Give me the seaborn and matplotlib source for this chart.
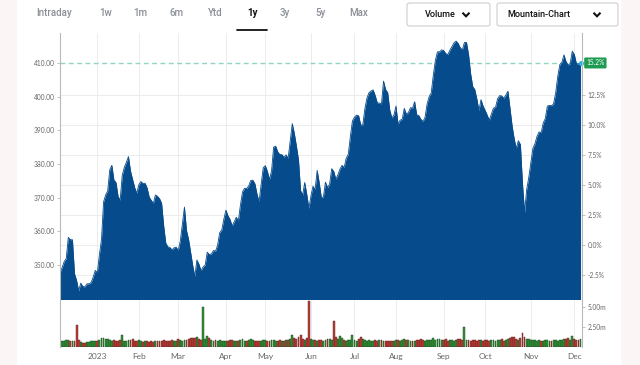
import numpy as np
import pandas as pd
import matplotlib
matplotlib.use("Agg")
import matplotlib.pyplot as plt
from matplotlib.patches import FancyBboxPatch, Rectangle
from matplotlib.lines import Line2D
import matplotlib.colors as mcolors
import seaborn as sns

# trading days shown in the 1y view (Dec 6 2022 - Dec 6 2023)
holidays = ["2022-12-26", "2023-01-02", "2023-01-16", "2023-02-20", "2023-04-07",
            "2023-05-29", "2023-06-19", "2023-07-04", "2023-09-04", "2023-11-23"]
dates = pd.bdate_range("2022-12-06", "2023-12-06", freq="C", holidays=holidays)

prices = [
    347.8, 349.2, 351.0, 351.9, 358.2, 357.5, 357.5, 347.4, 345.4, 342.3,
    344.6, 343.6, 343.5, 344.4, 344.4, 344.8, 346.4, 348.4, 347.7, 353.1,
    357.5, 368.7, 370.8, 372.0, 378.3, 379.6, 375.2, 374.5, 370.4, 369.2,
    376.6, 379.0, 380.5, 382.2, 377.9, 375.4, 373.0, 371.3, 373.8, 374.8,
    374.2, 374.3, 372.9, 370.2, 369.2, 368.3, 370.8, 370.4, 369.7, 368.3,
    361.6, 356.5, 355.4, 355.2, 354.5, 355.1, 355.3, 354.3, 357.1, 362.1,
    367.2, 360.2, 357.6, 353.7, 349.8, 346.6, 351.5, 350.2, 348.3, 349.4,
    350.0, 353.8, 353.1, 353.3, 354.3, 354.1, 355.9, 359.6, 360.4, 363.6,
    366.3, 364.6, 363.5, 361.6, 362.8, 364.2, 363.1, 367.8, 371.7, 372.8,
    372.7, 373.5, 375.1, 375.2, 374.1, 371.0, 368.8, 374.0, 378.9, 379.5,
    377.8, 375.4, 377.9, 385.0, 385.3, 383.6, 382.8, 382.8, 382.0, 382.7,
    381.7, 386.8, 392.0, 389.0, 385.3, 381.2, 372.1, 370.8, 374.5, 370.9,
    366.8, 370.5, 373.4, 372.4, 378.1, 374.4, 370.0, 370.2, 374.6, 373.0,
    374.0, 378.6, 377.8, 375.5, 376.8, 378.5, 379.6, 378.9, 381.7, 382.9,
    388.1, 392.8, 393.9, 394.5, 394.3, 391.6, 391.6, 396.4, 399.6, 401.2,
    401.7, 402.0, 400.3, 398.1, 398.1, 397.8, 404.6, 402.1, 401.2, 396.0,
    393.7, 394.5, 397.2, 391.8, 393.0, 393.3, 396.5, 394.8, 395.3, 396.7,
    396.6, 398.5, 394.6, 394.4, 393.3, 392.6, 393.8, 397.8, 400.0, 401.1,
    406.4, 410.8, 413.3, 413.3, 413.9, 413.7, 412.8, 412.5, 413.8, 414.9,
    416.0, 416.5, 415.8, 414.5, 413.9, 416.1, 416.1, 412.5, 406.8, 403.0,
    402.1, 399.3, 395.9, 399.1, 397.2, 395.9, 394.5, 393.0, 394.8, 396.6,
    396.8, 399.4, 400.3, 400.2, 399.5, 400.5, 401.6, 396.4, 391.3, 387.5,
    384.6, 386.9, 385.8, 374.2, 365.6, 372.3, 375.9, 380.2, 384.6, 386.0,
    388.2, 389.5, 389.3, 392.2, 393.5, 397.2, 397.4, 397.3, 397.9, 401.1,
    406.0, 409.5, 410.2, 412.4, 410.4, 409.4, 409.8, 413.5, 412.5, 409.8,
    409.7, 410.0,
]

# daily volume, millions of shares
volumes_m = [
    0.7, 0.8, 0.75, 0.85, 0.9, 0.8, 0.7, 0.75, 2.75, 0.9,
    0.6, 0.55, 0.5, 0.6, 0.65, 0.7, 0.75, 0.8, 0.7, 0.9,
    1.15, 1.1, 1.0, 0.95, 0.9, 0.8, 0.85, 0.75, 0.8, 0.9,
    1.5, 0.8, 0.7, 0.85, 0.9, 0.95, 0.8, 0.75, 0.9, 0.7,
    0.65, 0.7, 0.75, 0.6, 0.7, 0.65, 0.8, 0.75, 0.7, 0.8,
    0.9, 0.7, 0.75, 0.8, 0.9, 0.75, 0.8, 0.95, 0.85, 0.8,
    0.9, 0.85, 1.0, 1.1, 1.15, 1.15, 1.2, 1.0, 0.9, 5.0,
    1.0, 1.4, 1.1, 0.9, 0.8, 0.85, 0.7, 0.9, 0.8, 0.75,
    0.7, 0.8, 0.85, 0.9, 0.8, 0.75, 0.7, 0.9, 0.95, 0.8,
    0.75, 0.9, 1.0, 0.85, 0.8, 0.7, 0.75, 0.8, 0.85, 0.9,
    0.8, 0.75, 0.9, 0.85, 0.8, 0.7, 0.9, 0.75, 0.8, 0.85,
    0.9, 1.0, 1.5, 1.1, 1.0, 1.2, 1.5, 1.0, 0.9, 1.1,
    5.8, 1.0, 0.9, 0.85, 0.8, 0.9, 0.85, 0.8, 0.9, 0.95,
    1.0, 0.9, 3.2, 1.3, 1.0, 1.4, 1.1, 0.9, 0.8, 0.85,
    0.9, 1.5, 0.9, 0.8, 1.0, 1.3, 1.0, 0.9, 0.8, 0.85,
    0.8, 0.75, 0.9, 0.8, 0.85, 0.9, 0.8, 0.75, 0.8, 0.7,
    0.75, 0.8, 0.85, 0.9, 0.8, 0.85, 0.95, 0.9, 0.85, 0.8,
    0.75, 0.8, 0.85, 0.9, 1.0, 0.85, 0.8, 0.9, 0.85, 0.9,
    1.1, 0.9, 1.0, 1.05, 0.85, 0.9, 0.95, 0.8, 0.85, 0.9,
    0.8, 0.85, 0.95, 1.0, 0.9, 2.55, 0.85, 0.9, 0.8, 0.85,
    0.9, 0.8, 0.85, 0.9, 0.75, 0.9, 0.85, 0.8, 0.85, 0.9,
    0.8, 0.85, 0.9, 0.95, 0.8, 0.9, 1.0, 1.1, 1.2, 1.3,
    1.0, 0.9, 1.1, 1.8, 1.3, 1.0, 0.95, 0.9, 0.85, 0.9,
    0.8, 0.85, 0.75, 0.8, 0.85, 0.9, 0.8, 0.75, 0.85, 0.9,
    0.8, 0.85, 0.9, 1.0, 0.95, 1.1, 0.9, 1.4, 1.0, 0.85,
    0.9, 0.95,
]

base_price = 355.9  # 0% reference of the right axis
tabs = ["Intraday", "1w", "1m", "6m", "Ytd", "1y", "3y", "5y", "Max"]
tab_x = [54, 106, 140, 177, 215, 252, 285, 320, 359]
active_tab = "1y"
price_ticks = [350, 360, 370, 380, 390, 400, 410]
pct_ticks = [-2.5, 0.0, 2.5, 5.0, 7.5, 10.0, 12.5]
vol_ticks = [2.5, 5.0]

df = pd.DataFrame({"date": dates, "price": prices, "volume": volumes_m})
df["idx"] = np.arange(len(df))
df["move"] = np.where(df["price"].diff().fillna(0) >= 0, "up", "down")

month_start = df.groupby(df["date"].dt.to_period("M"))["idx"].min()
month_start = month_start[month_start.index >= pd.Period("2023-01", "M")]
month_labels = ["2023" if p.month == 1 else p.strftime("%b") for p in month_start.index]

sns.set_theme(style="white")
plt.rcParams["font.family"] = ["Lato", "DejaVu Sans"]

BLUE = "#064b8c"
GREEN = "#23a42b"
RED = "#d42a22"
GRID = "#ececec"
SPINE = "#b8b8b8"
TICK = "#666666"

W, H = 640, 365
fig = plt.figure(figsize=(6.4, 3.65), dpi=100)
fig.patch.set_facecolor("#fcf5f5")


def fx(px):
    return px / W


def fy(py):
    return 1 - py / H


fig.add_artist(Rectangle((fx(17), 0), fx(621) - fx(17), 1, transform=fig.transFigure,
                         facecolor="white", edgecolor="none", zorder=-5))

xlim = (0, 251.7)
ylim = (339.6, 418.9)

# price area
ax = fig.add_axes([fx(60), fy(300), fx(582) - fx(60), fy(33) - fy(300)])
ax.set_facecolor("white")
for p in pct_ticks:
    ax.axhline(base_price * (1 + p / 100), color=GRID, lw=0.7, zorder=0)
for m in month_start.values:
    ax.axvline(m, color=GRID, lw=0.7, zorder=0)
ax.axhline(prices[-1], color="#8fd6c6", lw=1.0, ls=(0, (3.5, 2.5)), zorder=1)
sns.lineplot(data=df, x="idx", y="price", ax=ax, color=BLUE, lw=0.6, zorder=2)
ax.fill_between(df["idx"], df["price"], ylim[0] - 5, color=BLUE, lw=0, zorder=2)
ax.set_xlim(*xlim)
ax.set_ylim(*ylim)
ax.set_xlabel("")
ax.set_ylabel("")
ax.set_xticks([])
ax.set_yticks(price_ticks)
ax.set_yticklabels([f"{v:.2f}" for v in price_ticks])
ax.tick_params(axis="y", length=2.5, width=0.6, color=SPINE, labelsize=4.8,
               labelcolor=TICK, pad=1.5, left=True)
for s in ["top", "bottom", "right"]:
    ax.spines[s].set_visible(False)
ax.spines["left"].set_color(SPINE)
ax.spines["left"].set_linewidth(0.8)

# last value marker and change badge
last_pct = (prices[-1] / base_price - 1) * 100
ax.scatter([df["idx"].iloc[-1]], [prices[-1]], s=14, color="#2fb2dc", zorder=6,
           clip_on=False, linewidths=0)
ax.annotate(f"{last_pct:.1f}%", xy=(1, prices[-1]), xycoords=("axes fraction", "data"),
            xytext=(3, 0), textcoords="offset points", ha="left", va="center",
            fontsize=4.8, color="white", zorder=7, annotation_clip=False,
            bbox=dict(boxstyle="round,pad=0.3,rounding_size=0.2", fc="#1e9b52", ec="none"))

# percent axis on the right
axp = ax.twinx()
axp.set_ylim((ylim[0] / base_price - 1) * 100, (ylim[1] / base_price - 1) * 100)
axp.set_yticks(pct_ticks)
axp.set_yticklabels([f"{v:.1f}%" for v in pct_ticks])
axp.tick_params(axis="y", length=2.5, width=0.6, color=SPINE, labelsize=4.8,
                labelcolor=TICK, pad=1.5, right=True)
axp.grid(False)
for s in ["top", "bottom", "left"]:
    axp.spines[s].set_visible(False)
axp.spines["right"].set_color(SPINE)
axp.spines["right"].set_linewidth(0.8)

# volume panel
axv = fig.add_axes([fx(60), fy(347), fx(582) - fx(60), fy(300) - fy(347)])
axv.set_facecolor("white")
for m in month_start.values:
    axv.axvline(m, color=GRID, lw=0.7, zorder=0)
sns.barplot(data=df, x="idx", y="volume", hue="move", palette={"up": GREEN, "down": RED},
            dodge=False, native_scale=True, legend=False, errorbar=None, width=0.9,
            ax=axv, zorder=2)
for bar in axv.patches:
    r, g, b, a = bar.get_facecolor()
    bar.set_edgecolor((r * 0.45, g * 0.45, b * 0.45, 1))
    bar.set_linewidth(0.3)
axv.set_xlim(*xlim)
axv.set_ylim(0, 5.875)
axv.set_xlabel("")
axv.set_ylabel("")
axv.yaxis.tick_right()
axv.set_yticks(vol_ticks)
axv.set_yticklabels([f"{v:.2f}m" for v in vol_ticks])
axv.tick_params(axis="y", length=2.5, width=0.6, color=SPINE, labelsize=4.8,
                labelcolor=TICK, pad=1.5, right=True, left=False)
axv.set_xticks(month_start.values)
axv.set_xticklabels(month_labels)
axv.tick_params(axis="x", length=0, labelsize=6, labelcolor=TICK, pad=4)
for s in ["top", "bottom"]:
    axv.spines[s].set_visible(False)
for s in ["left", "right"]:
    axv.spines[s].set_color(SPINE)
    axv.spines[s].set_linewidth(0.8)

# period tabs
for name, cx in zip(tabs, tab_x):
    active = name == active_tab
    fig.text(fx(cx), fy(13), name, ha="center", va="center", fontsize=7,
             family=["Roboto", "DejaVu Sans"], fontweight="bold" if active else "medium",
             color="#111111" if active else "#8a8e96")
fig.add_artist(Line2D([fx(237), fx(267)], [fy(30), fy(30)], color="#111111", lw=1.3,
                      transform=fig.transFigure))


def chevron(cx, cy):
    fig.add_artist(Line2D([fx(cx - 3.5), fx(cx), fx(cx + 3.5)],
                          [fy(cy - 1.8), fy(cy + 1.8), fy(cy - 1.8)],
                          color="#111111", lw=1.5, solid_capstyle="butt",
                          solid_joinstyle="miter", transform=fig.transFigure))


for label, x0, x1, tx, cx in [("Volume", 407, 490, 440, 466),
                              ("Mountain-Chart", 497, 618, 539, 597)]:
    fig.add_artist(FancyBboxPatch((fx(x0), fy(26)), fx(x1) - fx(x0), fy(3) - fy(26),
                                  boxstyle="round,pad=0,rounding_size=0.005",
                                  transform=fig.transFigure, fc="white", ec="#cfcfcf", lw=0.8))
    fig.text(fx(tx), fy(14.5), label, ha="center", va="center", fontsize=6.5,
             family=["Roboto", "DejaVu Sans"], fontweight="medium", color="#111111")
    chevron(cx, 14.5)

fig.savefig("out.png", dpi=100, facecolor=fig.get_facecolor())
